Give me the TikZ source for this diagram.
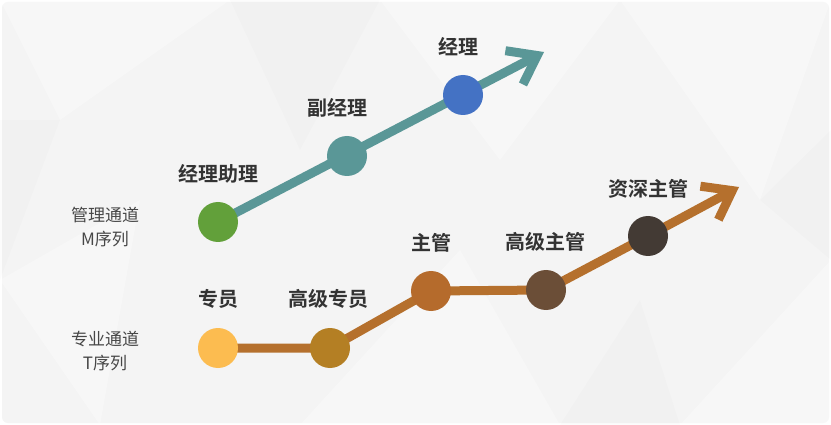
\documentclass[tikz,border=0pt]{standalone}
\usepackage{fontspec}
\newfontfamily\cjkb{Noto Sans CJK SC Bold}
\newfontfamily\cjkr{Noto Sans CJK SC}
\usetikzlibrary{arrows.meta}
\definecolor{mteal}{HTML}{5A9797}
\definecolor{mgreen}{HTML}{62A03A}
\definecolor{mblue}{HTML}{4472C4}
\definecolor{tline}{HTML}{B5702D}
\definecolor{tyellow}{HTML}{FCBC50}
\definecolor{tochre}{HTML}{B47F24}
\definecolor{tbrown}{HTML}{B56B2C}
\definecolor{tdark}{HTML}{6B4E37}
\definecolor{tdarker}{HTML}{433A34}
\definecolor{txt}{HTML}{333333}
\definecolor{bgc}{HTML}{F4F4F4}
\tikzset{
  dot/.style={circle, minimum size=40pt, inner sep=0pt, draw=none},
  lvl/.style={font=\cjkb\fontsize{20}{22}\selectfont, text=txt, inner sep=0pt},
  track/.style={font=\cjkr\fontsize{17}{24}\selectfont, text=txt!90, align=center, inner sep=0pt},
  path line/.style={line width=9pt, line join=round, -{Straight Barb[length=26pt, width=38pt, line width=9pt]}},
  tri/.style={fill=white, opacity=0.3, draw=none}
}
\begin{document}
\begin{tikzpicture}[x=1pt, y=-1pt]
\useasboundingbox (0,0) rectangle (831,425);
\fill[white] (0,0) rectangle (831,425);
\fill[bgc, rounded corners=6pt] (2,2) rectangle (829,423);
% faint low-poly background
\fill[tri] (0,0) -- (230,0) -- (60,120) -- cycle;
\fill[tri] (380,0) -- (620,0) -- (500,160) -- cycle;
\fill[tri] (620,0) -- (831,0) -- (760,200) -- cycle;
\fill[tri] (0,280) -- (140,200) -- (100,425) -- cycle;
\fill[tri] (300,425) -- (460,250) -- (560,425) -- cycle;
\fill[tri] (680,425) -- (831,260) -- (831,425) -- cycle;
\fill[black, opacity=0.012] (230,0) -- (380,0) -- (300,150) -- cycle;
\fill[black, opacity=0.012] (560,425) -- (680,425) -- (640,300) -- cycle;
\fill[black, opacity=0.012] (0,120) -- (60,120) -- (0,280) -- cycle;
\fill[black, opacity=0.012] (760,200) -- (831,130) -- (831,260) -- cycle;
% coordinates
\coordinate (m1) at (218,222);
\coordinate (m2) at (347,156);
\coordinate (m3) at (463,95);
\coordinate (mend) at (544,52);
\coordinate (t1) at (218,348);
\coordinate (t2) at (330,348);
\coordinate (t3) at (431,291);
\coordinate (t4) at (546,290);
\coordinate (t5) at (648,236);
\coordinate (tend) at (739,187);
% lines
\draw[path line, mteal] (m1) -- (mend);
\draw[path line, tline] (t1) -- (t2) -- (t3) -- (t4) -- (t5) -- (tend);
% dots
\node[dot, fill=mgreen] (n1) at (m1) {};
\node[dot, fill=mteal] (n2) at (m2) {};
\node[dot, fill=mblue] (n3) at (m3) {};
\node[dot, fill=tyellow] (s1) at (t1) {};
\node[dot, fill=tochre] (s2) at (t2) {};
\node[dot, fill=tbrown] (s3) at (t3) {};
\node[dot, fill=tdark] (s4) at (t4) {};
\node[dot, fill=tdarker] (s5) at (t5) {};
% labels
\node[lvl] (l1) at (218,174) {经理助理};
\node[lvl] (l2) at (337,108) {副经理};
\node[lvl] (l3) at (458,47) {经理};
\node[lvl] (k1) at (218,299) {专员};
\node[lvl] (k2) at (328,299) {高级专员};
\node[lvl] (k3) at (431,243) {主管};
\node[lvl] (k4) at (545,242) {高级主管};
\node[lvl] (k5) at (648,189) {资深主管};
\node[track] (tm) at (105,227) {管理通道\\M序列};
\node[track] (tt) at (105,351) {专业通道\\T序列};
\end{tikzpicture}
\end{document}
